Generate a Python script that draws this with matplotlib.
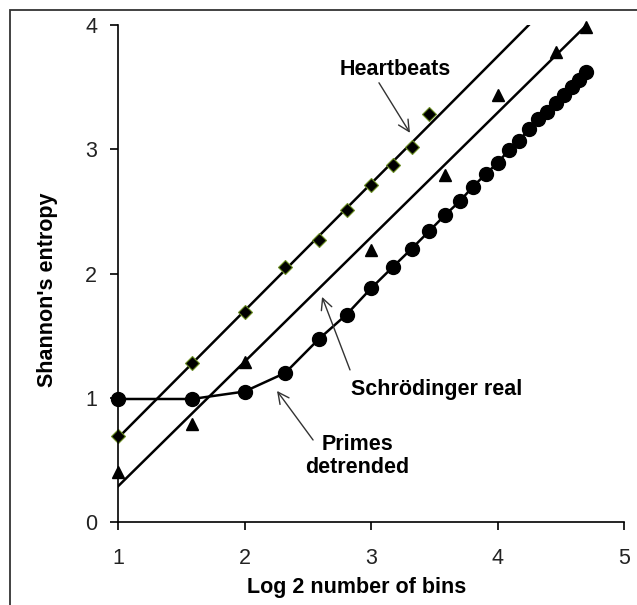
import numpy as np
import matplotlib.pyplot as plt
from matplotlib.patches import Rectangle

plt.rcParams['font.family'] = ['Liberation Sans', 'DejaVu Sans']

# -------------------------------------------------------------------------
# data (x = log2 of number of bins)

heart_x = [1.0, 1.585, 2.0, 2.322, 2.585, 2.807, 3.0, 3.17, 3.322, 3.459]
heart_y = [0.69, 1.28, 1.69, 2.05, 2.27, 2.51, 2.71, 2.87, 3.02, 3.28]

schro_x = [1.0, 1.585, 2.0, 3.0, 3.585, 4.0, 4.459, 4.70]
schro_y = [0.40, 0.79, 1.29, 2.19, 2.79, 3.44, 3.78, 3.98]

primes_x = [1.0, 1.585, 2.0, 2.322, 2.585, 2.807, 3.0, 3.17, 3.322, 3.459,
            3.585, 3.70, 3.807, 3.907, 4.0, 4.087, 4.17, 4.248, 4.322, 4.392,
            4.459, 4.524, 4.585, 4.644, 4.70]
primes_y = [0.99, 0.99, 1.05, 1.20, 1.47, 1.67, 1.88, 2.05, 2.20, 2.34,
            2.47, 2.58, 2.70, 2.80, 2.89, 2.99, 3.07, 3.16, 3.24, 3.30,
            3.37, 3.44, 3.50, 3.56, 3.62]

x_ticks = [1, 2, 3, 4, 5]
y_ticks = [0, 1, 2, 3, 4]

# -------------------------------------------------------------------------

fig = plt.figure(figsize=(6.37, 6.05), dpi=100)
ax = fig.add_axes([118/637, 1 - 522/605, 506/637, 497/605])

# outer frame (only top and left edges are visible in the crop)
fig.patches.append(Rectangle((10/637, -0.5), 2.0, 0.5 + 1 - 10/605,
                             transform=fig.transFigure, fill=False,
                             edgecolor='#333333', linewidth=1.3))

# linear trend lines
hp = np.polyfit(heart_x, heart_y, 1)
hx = np.array([1.0, 4.7])
ax.plot(hx, np.polyval(hp, hx), color='k', lw=1.8)

sp = np.polyfit(schro_x, schro_y, 1)
sx = np.array([schro_x[0], schro_x[-1]])
ax.plot(sx, np.polyval(sp, sx), color='k', lw=1.8)

ax.plot(heart_x, heart_y, 'D', color='k', markersize=7.2,
        markeredgecolor='#6b8e23', markeredgewidth=0.8, clip_on=False)
ax.plot(schro_x, schro_y, '^', color='k', markersize=8.5, clip_on=False)
ax.plot(primes_x, primes_y, 'o-', color='k', lw=1.8, markersize=10,
        clip_on=False)

ax.set_xlim(1, 5)
ax.set_ylim(0, 4)
ax.set_xticks(x_ticks)
ax.set_yticks(y_ticks)
ax.spines['top'].set_visible(False)
ax.spines['right'].set_visible(False)
ax.spines['left'].set_linewidth(1.2)
ax.spines['bottom'].set_linewidth(1.2)
ax.tick_params(axis='x', direction='out', length=6, width=1.2,
               pad=13, labelsize=15.5, labelcolor='#222222')
ax.tick_params(axis='y', direction='out', length=6, width=1.2,
               pad=9, labelsize=15.5, labelcolor='#222222')

ax.set_xlabel('Log 2 number of bins', fontsize=15.5, fontweight='bold')
ax.xaxis.set_label_coords(0.472, -0.111)
ax.set_ylabel("Shannon's entropy", fontsize=15.5, fontweight='bold')
ax.yaxis.set_label_coords(-0.118, 0.467)

# annotations
arrow = dict(arrowstyle='->', color='#333333', lw=1.0,
             shrinkA=0, shrinkB=0, mutation_scale=20)
ax.annotate('', xy=(3.308, 3.132), xytext=(3.063, 3.535), arrowprops=arrow)
ax.annotate('', xy=(2.613, 1.812), xytext=(2.834, 1.224), arrowprops=arrow)
ax.annotate('', xy=(2.257, 1.055), xytext=(2.542, 0.660), arrowprops=arrow)

ax.text(3.19, 3.64, 'Heartbeats', fontsize=15.5, fontweight='bold',
        ha='center', va='center')
ax.text(3.52, 1.07, 'Schrödinger real', fontsize=15.5, fontweight='bold',
        ha='center', va='center')
ax.text(2.89, 0.53, 'Primes\ndetrended', fontsize=15.5, fontweight='bold',
        ha='center', va='center', linespacing=1.15)

plt.savefig('out.png', dpi=100)
